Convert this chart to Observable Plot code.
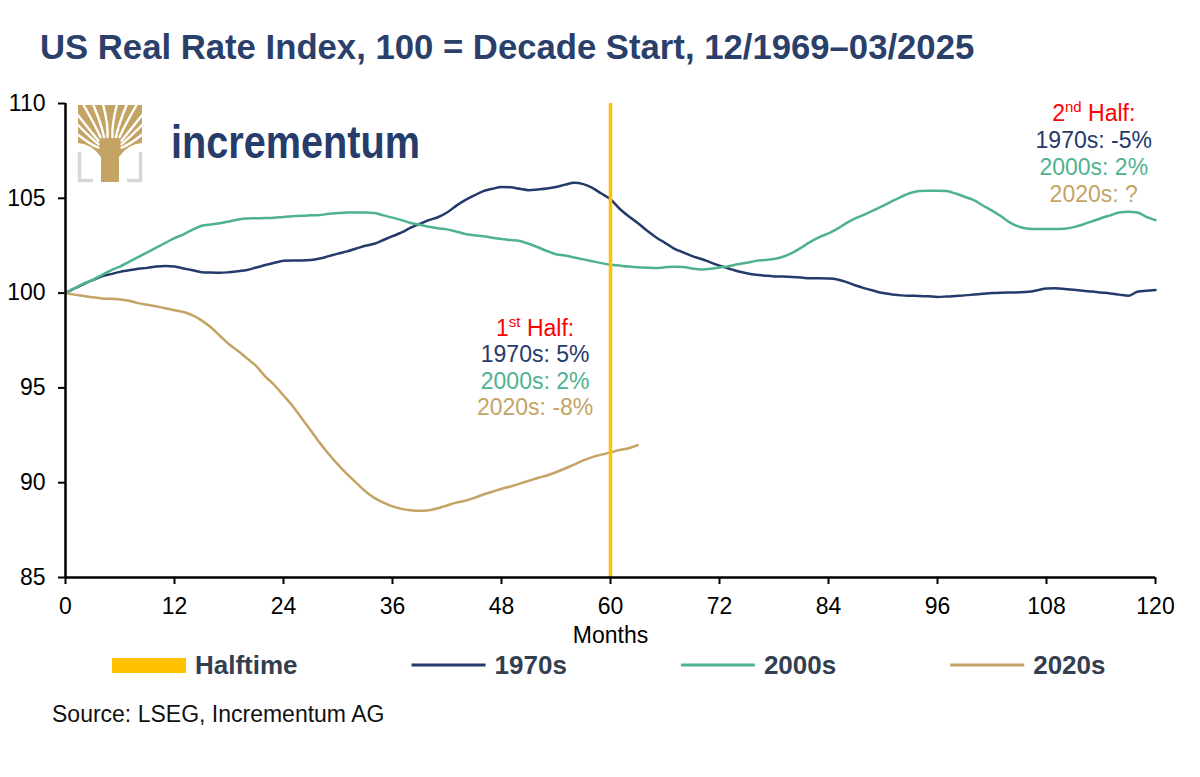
<!DOCTYPE html>
<html><head><meta charset="utf-8">
<script src="https://cdn.jsdelivr.net/npm/d3@7"></script>
<script src="https://cdn.jsdelivr.net/npm/@observablehq/plot@0.6"></script>
<style>
body{margin:0;background:#fff;width:1200px;height:777px;position:relative;overflow:hidden;font-family:"Liberation Sans",Arial,sans-serif;}
.abs{position:absolute;left:0;}
</style></head><body>
<svg class="abs" id="head" width="1200" height="80" style="top:0">
  <text x="40" y="59" font-size="34.7" font-weight="bold" fill="#2b3f6b" font-family="Liberation Sans, Arial, sans-serif">US Real Rate Index, 100 = Decade Start, 12/1969–03/2025</text>
</svg>
<div class="abs" id="chart" style="top:80px"></div>
<svg class="abs" id="logo" width="1200" height="220" style="top:0;pointer-events:none">
  <g transform="translate(78,105)" id="tree"></g>
  <text x="171" y="158" font-size="46" font-weight="bold" fill="#263d6c" textLength="249" lengthAdjust="spacingAndGlyphs" font-family="Liberation Sans, Arial, sans-serif">incrementum</text>
</svg>
<svg class="abs" id="legend" width="1200" height="50" style="top:640px"></svg>
<svg class="abs" id="source" width="1200" height="40" style="top:695px">
  <text x="52" y="27" font-size="23" fill="#111" font-family="Liberation Sans, Arial, sans-serif">Source: LSEG, Incrementum AG</text>
</svg>
<script>
// ---- data ----
const seriesNames = ["1970s", "2000s", "2020s"];
const seriesColors = ["#243a6b", "#4fb28f", "#c4a464"];
const halftimeMonth = 60;
const halftimeColor = "#ffc000";
const xTicks = [0, 12, 24, 36, 48, 60, 72, 84, 96, 108, 120];
const yTicks = [85, 90, 95, 100, 105, 110];

const s1970 = [100.0,100.25,100.48,100.68,100.88,101.0,101.12,101.2,101.28,101.33,
101.4,101.43,101.4,101.3,101.2,101.1,101.08,101.07,101.1,101.15,
101.22,101.35,101.48,101.6,101.7,101.72,101.72,101.74,101.82,101.95,
102.08,102.2,102.35,102.5,102.6,102.8,103.0,103.2,103.45,103.65,
103.85,104.0,104.25,104.6,104.9,105.15,105.38,105.5,105.6,105.58,
105.5,105.43,105.47,105.52,105.6,105.72,105.82,105.75,105.55,105.25,
104.95,104.45,104.05,103.7,103.3,102.95,102.65,102.35,102.15,101.95,
101.8,101.62,101.45,101.3,101.15,101.05,100.97,100.92,100.88,100.87,
100.85,100.82,100.78,100.78,100.77,100.72,100.58,100.4,100.25,100.12,
100.0,99.93,99.88,99.86,99.85,99.83,99.8,99.82,99.85,99.88,
99.92,99.96,100.0,100.02,100.03,100.04,100.07,100.15,100.24,100.25,
100.22,100.18,100.12,100.08,100.03,99.98,99.92,99.86,100.07,100.12,
100.16];

const s2000 = [100.0,100.25,100.5,100.7,100.95,101.2,101.4,101.65,101.9,102.15,
102.4,102.65,102.9,103.1,103.35,103.55,103.62,103.68,103.78,103.88,
103.94,103.95,103.96,103.98,104.02,104.05,104.08,104.1,104.12,104.18,
104.22,104.25,104.25,104.25,104.22,104.1,103.98,103.85,103.7,103.6,
103.5,103.42,103.36,103.25,103.12,103.05,103.0,102.92,102.85,102.8,
102.75,102.6,102.42,102.22,102.05,101.98,101.88,101.78,101.68,101.58,
101.5,101.45,101.4,101.36,101.34,101.32,101.36,101.39,101.38,101.3,
101.25,101.28,101.35,101.42,101.52,101.6,101.7,101.75,101.8,101.92,
102.12,102.4,102.7,102.95,103.15,103.4,103.7,103.95,104.15,104.38,
104.6,104.85,105.08,105.28,105.38,105.4,105.4,105.38,105.25,105.08,
104.9,104.62,104.35,104.05,103.72,103.5,103.4,103.38,103.38,103.38,
103.4,103.48,103.62,103.78,103.95,104.1,104.25,104.29,104.25,104.02,
103.85];

const s2020 = [100.0,99.92,99.85,99.78,99.72,99.7,99.66,99.6,99.47,99.38,
99.3,99.2,99.1,99.0,98.82,98.55,98.2,97.75,97.3,96.95,
96.55,96.15,95.6,95.15,94.6,94.05,93.4,92.75,92.1,91.5,
90.95,90.45,90.0,89.55,89.2,88.95,88.75,88.62,88.55,88.52,
88.55,88.65,88.8,88.95,89.05,89.2,89.38,89.52,89.68,89.8,
89.95,90.1,90.25,90.38,90.55,90.75,90.95,91.18,91.35,91.48,
91.6,91.72,91.82,91.98];

const seriesValues = [s1970, s2000, s2020];

const red = "#ff0000";
const firstHalfLines = [
  {text: "1st Half:", color: red},
  {text: "1970s: 5%", color: seriesColors[0]},
  {text: "2000s: 2%", color: seriesColors[1]},
  {text: "2020s: -8%", color: seriesColors[2]}
];
const secondHalfLines = [
  {text: "2nd Half:", color: red},
  {text: "1970s: -5%", color: seriesColors[0]},
  {text: "2000s: 2%", color: seriesColors[1]},
  {text: "2020s: ?", color: seriesColors[2]}
];
const annotBlocks = [
  {x: 51.7, y: 98.15, step: 26.5, lines: firstHalfLines},
  {x: 113.2, y: 109.49, step: 27.3, lines: secondHalfLines}
];

// ---- plot ----
const FONT = '"Liberation Sans", Arial, sans-serif';
const lineMarks = seriesNames.map((name, i) =>
  Plot.line(seriesValues[i].map((v, m) => ({month: m, value: v, series: name})),
    {x: "month", y: "value", stroke: seriesColors[i], strokeWidth: 2.5, curve: "monotone-x"}));

const annotMarks = annotBlocks.flatMap(b => b.lines.map((ln, i) =>
  Plot.text([{x: b.x, y: b.y, text: ln.text}], {x: "x", y: "y", text: "text", dy: i * b.step, fill: ln.color, fontSize: 23, textAnchor: "middle"})));

const plot = Plot.plot({
  width: 1200, height: 580,
  marginLeft: 65, marginRight: 45, marginTop: 23, marginBottom: 83,
  style: {fontFamily: FONT, fontSize: "23px", color: "#000", background: "transparent", overflow: "visible"},
  x: {domain: [0, 120]},
  y: {domain: [85, 110]},
  marks: [
    Plot.axisY({ticks: yTicks, tickSize: 7, tickPadding: 13, label: null, tickFormat: d => String(d), strokeWidth: 2, fontSize: 23}),
    Plot.axisX({ticks: xTicks, tickSize: 7, tickPadding: 13, label: null, tickFormat: d => String(d), strokeWidth: 2, fontSize: 23}),
    ...lineMarks,
    Plot.ruleX([halftimeMonth], {y1: 85, y2: 110, stroke: halftimeColor, strokeWidth: 3.5}),
    Plot.ruleX([0], {stroke: "#000", strokeWidth: 2.5}),
    Plot.ruleY([85], {stroke: "#000", strokeWidth: 2.5}),
    ...annotMarks,
    Plot.text(["Months"], {frameAnchor: "bottom", dy: 65, fontSize: 23, fill: "#000"})
  ]
});
document.getElementById("chart").appendChild(plot);

// superscripts for "1st" / "2nd"
d3.select(plot).selectAll("text").each(function() {
  const m = /^(\d)(st|nd) (Half:)$/.exec(this.textContent);
  if (!m) return;
  const t = d3.select(this);
  t.text(null);
  t.append("tspan").text(m[1]);
  t.append("tspan").text(m[2]).attr("font-size", 15).attr("dy", -9);
  t.append("tspan").text(" " + m[3]).attr("dy", 9);
});

// ---- logo tree ----
const tree = d3.select("#tree");
const gold = "#c4a464";
tree.append("path").attr("d", "M1.5,47 V75.5 H15").attr("stroke", "#d6d6d6").attr("stroke-width", 3.5).attr("fill", "none");
tree.append("path").attr("d", "M62.5,47 V75.5 H49").attr("stroke", "#d6d6d6").attr("stroke-width", 3.5).attr("fill", "none");
tree.append("path").attr("d", "M0,0 H64 V38 Q50,39 41,52 L41,77 L23,77 L23,52 Q14,39 0,38 Z").attr("fill", gold);
const gapEnds = [[-1,9],[-1,19],[-1,29],[5,-1],[15,-1],[25,-1],[39,-1],[49,-1],[59,-1],[65,9],[65,19],[65,29]];
gapEnds.forEach(([ex, ey]) => {
  const tx = 32 + (ex - 32) * 0.35, ty = 50 + (ey - 50) * 0.35;
  const cx = (ex + tx) / 2 + (ex < 32 ? 3 : -3), cy = (ey + ty) / 2 + 4;
  tree.append("path").attr("d", `M${ex},${ey} Q${cx},${cy} ${tx},${ty}`).attr("stroke", "#fff").attr("stroke-width", 2.4).attr("fill", "none").attr("stroke-linecap", "round");
});

// ---- legend ----
const legend = d3.select("#legend");
const legendItems = [{name: "Halftime", color: halftimeColor, kind: "rect"}]
  .concat(seriesNames.map((n, i) => ({name: n, color: seriesColors[i], kind: "line"})));
let lx = 112;
legendItems.forEach(it => {
  if (it.kind === "rect") legend.append("rect").attr("x", lx).attr("y", 18).attr("width", 74).attr("height", 15).attr("fill", it.color);
  else legend.append("line").attr("x1", lx).attr("x2", lx + 74).attr("y1", 25).attr("y2", 25).attr("stroke", it.color).attr("stroke-width", 3);
  const t = legend.append("text").attr("x", lx + 83).attr("y", 34).attr("font-size", 26).attr("font-weight", "bold")
    .attr("fill", "#333f50").attr("font-family", FONT).text(it.name);
  lx = lx + 83 + t.node().getComputedTextLength() + 114;
});
</script>
</body></html>
